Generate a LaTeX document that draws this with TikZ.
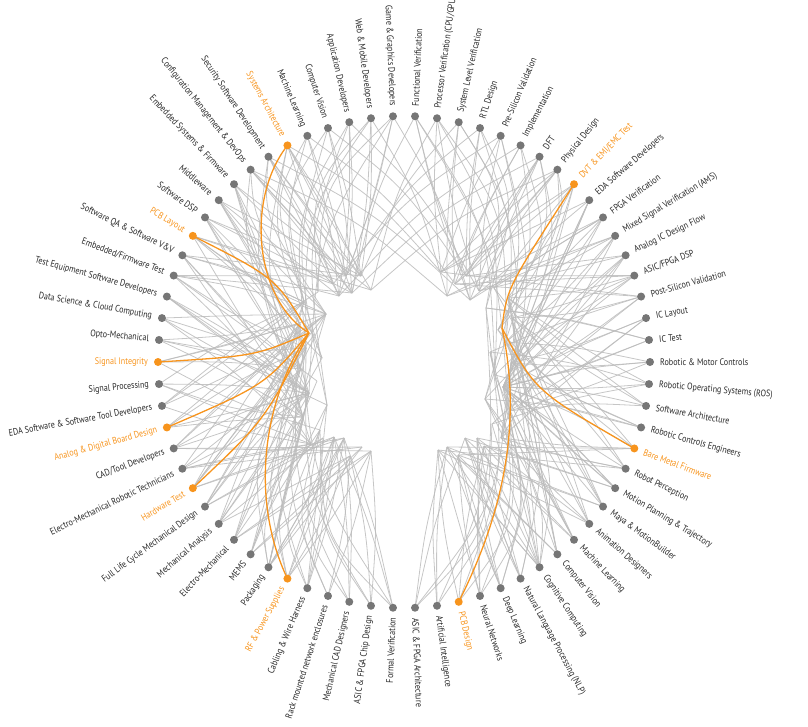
\documentclass[tikz,border=0pt]{standalone}
\usepackage{fontspec}
\setmainfont[FakeStretch=0.85]{PT Sans}
\usetikzlibrary{calc}
\definecolor{hl}{RGB}{247,148,29}
\definecolor{dotgray}{RGB}{118,118,118}
\definecolor{edgegray}{RGB}{188,188,188}
\definecolor{labelgray}{RGB}{40,40,40}
\begin{document}
\begin{tikzpicture}[x=1pt,y=-1pt,
  edge/.style={draw=edgegray, line width=0.8pt, opacity=0.85},
  hledge/.style={draw=hl, line width=1.3pt},
  dot/.style={circle, fill=dotgray, inner sep=0pt, minimum size=8pt},
  hldot/.style={circle, fill=hl, inner sep=0pt, minimum size=8pt},
  lbl/.style={font=\fontsize{9.5}{11}\selectfont, inner sep=0pt},
]
\useasboundingbox (0,0) rectangle (808,726);
% leaf positions
\foreach \i in {1,...,70}{
  \pgfmathsetmacro\a{90+(\i-0.5)*5.142857}
  \coordinate (n\i) at ({404+246*cos(\a)},{362-246*sin(\a)});
}
% interior tips
\foreach \x/\y [count=\j] in {318/292,304/302,326/314,300/324,314/335,306/348,322/358,301/369,317/381,309/393,327/405,303/417,320/430,311/444}
  {\coordinate (LB\j) at (\x,\y);}
\foreach \x/\y [count=\j] in {494/288,508/298,486/308,512/318,498/330,506/342,490/352,511/363,495/375,503/387,485/399,509/411,492/424,501/438}
  {\coordinate (RB\j) at (\x,\y);}
\foreach \x/\y [count=\j] in {333/284,346/276,361/276,371/290,352/293,339/296}
  {\coordinate (TL\j) at (\x,\y);}
\foreach \x/\y [count=\j] in {441/272,455/284,466/276,479/291,447/296,470/300}
  {\coordinate (TR\j) at (\x,\y);}
\foreach \x/\y [count=\j] in {323/438,334/437,344/438,362/447,371/451,350/456}
  {\coordinate (BL\j) at (\x,\y);}
\foreach \x/\y [count=\j] in {438/450,447/447,465/438,477/438,458/455,484/446}
  {\coordinate (BR\j) at (\x,\y);}
\coordinate (hubL) at (309,333);
\coordinate (hubR) at (502,328);

% side fans
\foreach \i in {9,...,29}{\foreach \k in {1,...,4}{
  \pgfmathtruncatemacro\t{mod(\i*37+\k*53+\i*\k*17,14)+1}
  \pgfmathtruncatemacro\o{mod(\i*13+\k*29,21)-10}
  \draw[edge] (n\i) .. controls ($(n\i)!0.5!(LB\t)+(0,\o)$) .. (LB\t);}}
\foreach \i in {42,...,62}{\foreach \k in {1,...,4}{
  \pgfmathtruncatemacro\t{mod(\i*41+\k*59+\i*\k*19,14)+1}
  \pgfmathtruncatemacro\o{mod(\i*11+\k*31,21)-10}
  \draw[edge] (n\i) .. controls ($(n\i)!0.5!(RB\t)+(0,\o)$) .. (RB\t);}}
% upper / lower side lines to tips
\foreach \i in {6,...,14}{\foreach \k in {1,2}{
  \pgfmathtruncatemacro\t{mod(\i*5+\k*3,6)+1}
  \draw[edge] (n\i) .. controls ($(n\i)!0.5!(TL\t)$) .. (TL\t);}}
\foreach \i in {56,...,64}{\foreach \k in {1,2}{
  \pgfmathtruncatemacro\t{mod(\i*7+\k*5,6)+1}
  \draw[edge] (n\i) .. controls ($(n\i)!0.5!(TR\t)$) .. (TR\t);}}
\foreach \i in {22,...,31}{\foreach \k in {1,2}{
  \pgfmathtruncatemacro\t{mod(\i*5+\k*7,6)+1}
  \draw[edge] (n\i) .. controls ($(n\i)!0.5!(BL\t)$) .. (BL\t);}}
\foreach \i in {39,...,49}{\foreach \k in {1,2}{
  \pgfmathtruncatemacro\t{mod(\i*7+\k*3,6)+1}
  \draw[edge] (n\i) .. controls ($(n\i)!0.5!(BR\t)$) .. (BR\t);}}
% top nodes
\foreach \i in {1,...,8}{
  \foreach \k in {1,2}{
    \pgfmathtruncatemacro\t{mod(\i*3+\k*4,6)+1}
    \draw[edge] (n\i) .. controls ($(n\i)!0.5!(TL\t)+(6,0)$) .. (TL\t);
    \pgfmathtruncatemacro\u{mod(\i*5+\k*9,14)+1}
    \draw[edge] (n\i) .. controls ($(n\i)!0.5!(LB\u)+(-34,-18)$) .. (LB\u);}
  \pgfmathtruncatemacro\v{mod(\i*5,6)+1}
  \draw[edge] (n\i) .. controls ($(n\i)!0.5!(TR\v)+(8,-14)$) .. (TR\v);}
\foreach \i in {63,...,70}{
  \foreach \k in {1,2}{
    \pgfmathtruncatemacro\t{mod(\i*5+\k*3,6)+1}
    \draw[edge] (n\i) .. controls ($(n\i)!0.5!(TR\t)+(-6,0)$) .. (TR\t);
    \pgfmathtruncatemacro\u{mod(\i*3+\k*11,14)+1}
    \draw[edge] (n\i) .. controls ($(n\i)!0.5!(RB\u)+(34,-18)$) .. (RB\u);}
  \pgfmathtruncatemacro\v{mod(\i*7,6)+1}
  \draw[edge] (n\i) .. controls ($(n\i)!0.5!(TL\v)+(-8,-14)$) .. (TL\v);}
% bottom nodes
\foreach \i in {29,...,35}{
  \foreach \k in {1,2}{
    \pgfmathtruncatemacro\t{mod(\i*3+\k*5,6)+1}
    \draw[edge] (n\i) .. controls ($(n\i)!0.5!(BL\t)+(6,0)$) .. (BL\t);
    \pgfmathtruncatemacro\u{mod(\i*7+\k*5,14)+1}
    \draw[edge] (n\i) .. controls ($(n\i)!0.5!(LB\u)+(-34,18)$) .. (LB\u);}}
\foreach \i in {36,...,42}{
  \foreach \k in {1,2}{
    \pgfmathtruncatemacro\t{mod(\i*5+\k*7,6)+1}
    \draw[edge] (n\i) .. controls ($(n\i)!0.5!(BR\t)+(-6,0)$) .. (BR\t);
    \pgfmathtruncatemacro\u{mod(\i*9+\k*5,14)+1}
    \draw[edge] (n\i) .. controls ($(n\i)!0.5!(RB\u)+(34,18)$) .. (RB\u);}}

% highlighted connectors
\draw[hledge] (n6) .. controls (245,200) and (255,300) .. (hubL);
\draw[hledge] (n12) .. controls (276,278) .. (hubL);
\draw[hledge] (n18) .. controls (255,356) .. (hubL);
\draw[hledge] (n21) .. controls (265,385) .. (hubL);
\draw[hledge] (n24) .. controls (265,420) .. (hubL);
\draw[hledge] (n30) .. controls (250,500) and (262,400) .. (hubL);
\draw[hledge] (n62) .. controls (507,288) .. (hubR);
\draw[hledge] (hubR) .. controls (535,391) .. (n49);
\draw[hledge] (hubR) .. controls (522,420) and (505,510) .. (n38);

% leaves and labels
\foreach \txt [count=\i] in {
Game \& Graphics Developers, Web \& Mobile Developers, Application Developers, Computer Vision, Machine Learning, Systems Architecture, Security Software Development, Configuration Management \& DevOps, Embedded Systems \& Firmware, Middleware, Software DSP, PCB Layout, Software QA \& Software V\&V, Embedded/Firmware Test, Test Equipment Software Developers, Data Science \& Cloud Computing, Opto-Mechanical, Signal Integrity, Signal Processing, EDA Software \& Software Tool Developers, Analog \& Digital Board Design, CAD/Tool Developers, Electro-Mechanical Robotic Technicians, Hardware Test, Full Life Cycle Mechanical Design, Mechanical Analysis, Electro-Mechanical, MEMS, Packaging, RF \& Power Supplies, Cabling \& Wire Harness, Rack mounted network enclosures, Mechanical CAD Designers, ASIC \& FPGA Chip Design, Formal Verification,
ASIC \& FPGA Architecture, Artificial Intelligence, PCB Design, Neural Networks, Deep Learning, Natural Language Processing (NLP), Cognitive Computing, Computer Vision, Machine Learning, Animation Designers, Maya \& MotionBuilder, Motion Planning \& Trajectory, Robot Perception, Bare Metal Firmware, Robotic Controls Engineers, Software Architecture, Robotic Operating Systems (ROS), Robotic \& Motor Controls, IC Test, IC Layout, Post-Silicon Validation, ASIC/FPGA DSP, Analog IC Design Flow, Mixed Signal Verification (AMS), FPGA Verification, EDA Software Developers, DVT \& EMI/EMC Test, Physical Design, DFT, Implementation, Pre-Silicon Validation, RTL Design, System Level Verification, Processor Verification (CPU/GPU), Functional Verification}{
  \pgfmathsetmacro\a{90+(\i-0.5)*5.142857}
  \pgfmathtruncatemacro\hlq{(\i==6)+(\i==12)+(\i==18)+(\i==21)+(\i==24)+(\i==30)+(\i==38)+(\i==49)+(\i==62)}
  \ifnum\hlq>0 \def\lc{hl}\def\dc{hldot}\else\def\lc{labelgray}\def\dc{dot}\fi
  \node[\dc] (d\i) at (n\i) {};
  \ifnum\i<36
    \node[lbl, text=\lc, anchor=east, rotate=\a-180] (l\i) at ({404+256*cos(\a)},{362-256*sin(\a)}) {\txt};
  \else
    \node[lbl, text=\lc, anchor=west, rotate=\a] (l\i) at ({404+256*cos(\a)},{362-256*sin(\a)}) {\txt};
  \fi
}
\end{tikzpicture}
\end{document}
